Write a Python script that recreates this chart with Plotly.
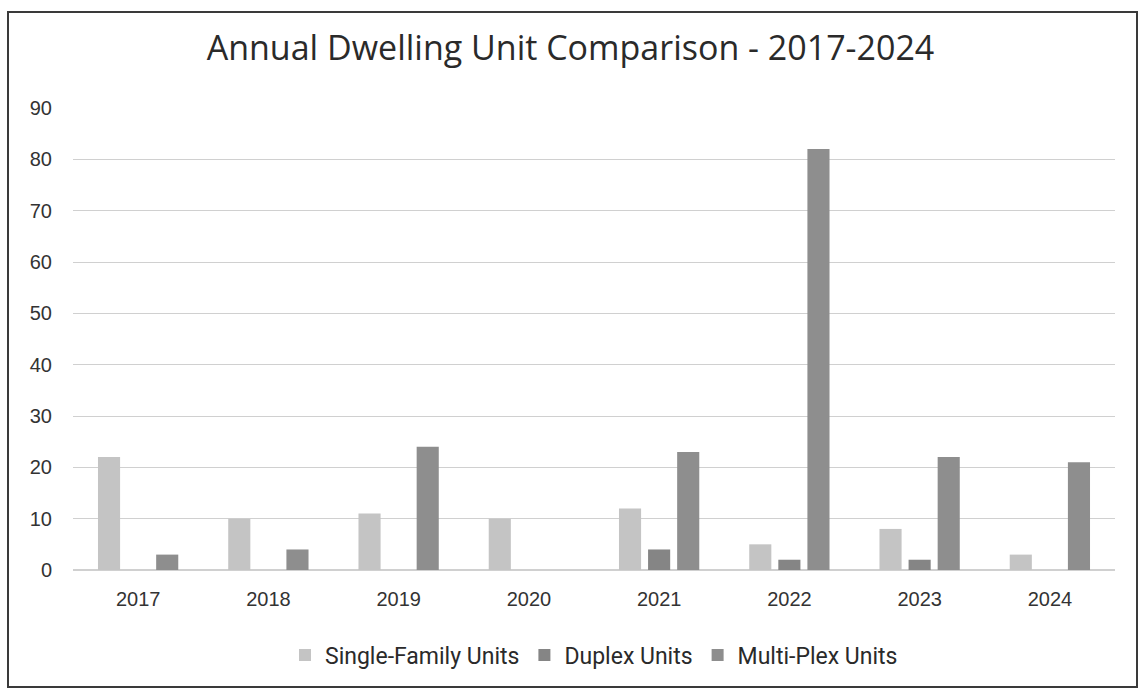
import plotly.graph_objects as go

years = ["2017", "2018", "2019", "2020", "2021", "2022", "2023", "2024"]
single_family = [22, 10, 11, 10, 12, 5, 8, 3]
duplex = [0, 0, 0, 0, 4, 2, 2, 0]
multiplex = [3, 4, 24, 0, 23, 82, 22, 21]

series_names = ["Single-Family Units", "Duplex Units", "Multi-Plex Units"]
series_colors = ["#c4c4c4", "#858585", "#8e8e8e"]

fig = go.Figure()
for name, vals, col in zip(series_names, [single_family, duplex, multiplex], series_colors):
    fig.add_trace(go.Bar(x=years, y=vals, name=name, marker=dict(color=col, line=dict(width=0))))

W, H = 1141, 692
L, R, T, B = 73, 26, 108, 122
pw, ph = W - L - R, H - T - B

def px_x(x):
    return (x - L) / pw

def px_y(y):
    return (H - B - y) / ph

fig.update_layout(
    width=W, height=H,
    margin=dict(l=L, r=R, t=T, b=B),
    paper_bgcolor="white", plot_bgcolor="white",
    font=dict(family="Liberation Sans, Arial, sans-serif", color="#333333"),
    title=dict(text="Annual Dwelling Unit Comparison - 2017-2024", x=0.5, xanchor="center",
               y=1 - 48 / H, yanchor="middle",
               font=dict(family="Open Sans, sans-serif", size=34, color="#2a2a2a")),
    barmode="group", bargap=0.33, bargroupgap=0.24,
    showlegend=True,
    legend=dict(orientation="h", x=0.5, xanchor="center", y=px_y(655), yanchor="middle",
                font=dict(family="Roboto, sans-serif", size=23, color="#2a2a2a"),
                itemwidth=30, traceorder="normal"),
    xaxis=dict(showgrid=False, showline=False, ticks="",
               tickfont=dict(size=20, color="#333333"), ticklabelstandoff=15),
    yaxis=dict(range=[0, 90], dtick=10, showgrid=True, gridcolor="#d0d0d0", gridwidth=1,
               zeroline=True, zerolinecolor="#d0d0d0", showline=False, ticks="",
               tickfont=dict(size=20, color="#333333"), ticklabelstandoff=20),
    shapes=[dict(type="rect", xref="paper", yref="paper",
                 x0=px_x(8), x1=px_x(1137), y0=px_y(687), y1=px_y(12),
                 line=dict(color="#3a3a3a", width=2), fillcolor="rgba(0,0,0,0)", layer="below")],
)

fig.write_html("out.html")
